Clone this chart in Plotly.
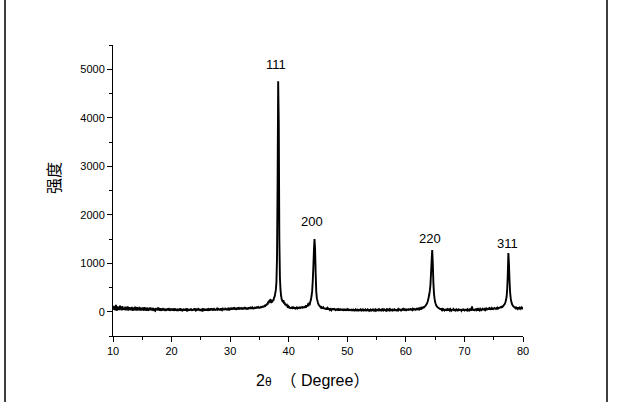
import plotly.graph_objects as go

# 2-theta grid: start 10.0, step 0.1 degree (one value per step)
theta_start = 10.0
theta_step = 0.1

# Intensity, rows of 10 values per degree (10.0 ... 79.9), then 80.0
intensity = [
    # 10
    60, 120, 40, 105, 30, 140, 55, 25, 110, 45,
    # 11
    90, 35, 125, 50, 100, 30, 115, 40, 85, 60,
    # 12
    40, 105, 30, 90, 45, 110, 25, 70, 95, 35,
    # 13
    75, 30, 100, 45, 25, 90, 50, 35, 105, 30,
    # 14
    55, 95, 25, 70, 40, 100, 45, 30, 85, 50,
    # 15
    35, 90, 45, 25, 95, 40, 70, 20, 85, 45,
    # 16
    40, 25, 85, 45, 90, 30, 60, 25, 80, 40,
    # 17
    50, 30, 20, 75, 40, 60, 25, 90, 35, 50,
    # 18
    25, 70, 40, 20, 65, 35, 75, 25, 55, 35,
    # 19
    45, 20, 60, 35, 70, 25, 55, 40, 20, 65,
    # 20
    35, 55, 25, 70, 20, 45, 65, 25, 55, 35,
    # 21
    20, 60, 35, 45, 25, 70, 35, 20, 55, 30,
    # 22
    45, 25, 55, 20, 65, 35, 25, 70, 20, 45,
    # 23
    25, 55, 35, 65, 20, 45, 25, 55, 35, 70,
    # 24
    35, 25, 65, 20, 55, 35, 75, 25, 45, 20,
    # 25
    55, 35, 25, 70, 35, 20, 60, 45, 25, 55,
    # 26
    25, 65, 35, 20, 55, 45, 25, 70, 35, 55,
    # 27
    45, 25, 75, 35, 55, 25, 60, 35, 80, 45,
    # 28
    55, 35, 60, 25, 70, 45, 35, 75, 55, 35,
    # 29
    60, 40, 80, 35, 65, 45, 40, 85, 55, 45,
    # 30
    60, 40, 85, 45, 70, 50, 90, 45, 70, 55,
    # 31
    50, 80, 45, 90, 55, 70, 45, 85, 55, 75,
    # 32
    65, 45, 90, 55, 75, 60, 95, 50, 80, 60,
    # 33
    70, 50, 95, 60, 80, 65, 100, 60, 85, 70,
    # 34
    75, 60, 100, 65, 90, 70, 105, 75, 95, 80,
    # 35
    80, 100, 75, 110, 85, 115, 90, 120, 100, 125,
    # 36
    120, 150, 130, 170, 150, 210, 180, 240, 220, 260,
    # 37
    180, 220, 195, 250, 230, 290, 310, 380, 450, 600,
    # 38
    1100, 2600, 4750, 3900, 1500, 700, 450, 330, 260, 230,
    # 39
    200, 240, 170, 190, 140, 160, 120, 135, 105, 115,
    # 40
    80, 95, 70, 90, 65, 85, 75, 90, 65, 85,
    # 41
    75, 65, 90, 60, 85, 70, 95, 65, 85, 90,
    # 42
    80, 100, 75, 95, 85, 105, 80, 100, 95, 115,
    # 43
    105, 130, 110, 150, 140, 170, 160, 210, 250, 330,
    # 44
    420, 620, 900, 1250, 1500, 1300, 800, 420, 280, 230,
    # 45
    180, 150, 130, 120, 100, 85, 95, 75, 80, 90,
    # 46
    60, 80, 55, 75, 45, 70, 80, 45, 65, 55,
    # 47
    40, 70, 50, 35, 65, 45, 70, 35, 55, 45,
    # 48
    35, 60, 30, 65, 40, 50, 25, 60, 40, 50,
    # 49
    30, 55, 25, 60, 35, 45, 25, 55, 35, 45,
    # 50
    25, 50, 35, 20, 55, 30, 50, 20, 40, 30,
    # 51
    40, 20, 50, 30, 45, 20, 55, 30, 40, 25,
    # 52
    30, 50, 20, 45, 30, 55, 20, 45, 30, 50,
    # 53
    20, 45, 30, 50, 20, 45, 30, 20, 50, 30,
    # 54
    45, 30, 50, 20, 45, 30, 55, 30, 45, 20,
    # 55
    30, 50, 20, 45, 30, 45, 20, 50, 30, 45,
    # 56
    20, 45, 30, 50, 40, 30, 20, 45, 30, 50,
    # 57
    40, 30, 50, 30, 45, 20, 50, 30, 45, 30,
    # 58
    30, 50, 40, 20, 50, 30, 45, 30, 55, 40,
    # 59
    40, 30, 55, 35, 50, 30, 55, 40, 50, 35,
    # 60
    45, 35, 55, 30, 50, 40, 60, 35, 55, 45,
    # 61
    50, 35, 60, 45, 55, 35, 65, 45, 60, 50,
    # 62
    60, 50, 65, 50, 70, 60, 80, 65, 85, 80,
    # 63
    95, 90, 105, 115, 130, 150, 170, 200, 240, 300,
    # 64
    360, 440, 560, 800, 1050, 1270, 1000, 600, 380, 270,
    # 65
    200, 160, 130, 110, 95, 85, 75, 70, 60, 55,
    # 66
    60, 40, 55, 35, 55, 45, 30, 55, 25, 45,
    # 67
    35, 50, 25, 60, 40, 25, 55, 40, 25, 50,
    # 68
    30, 55, 40, 20, 55, 30, 45, 20, 55, 30,
    # 69
    45, 25, 55, 30, 50, 20, 35, 55, 25, 45,
    # 70
    30, 50, 25, 55, 35, 50, 25, 40, 50, 30,
    # 71
    45, 25, 55, 110, 30, 50, 25, 55, 35, 50,
    # 72
    55, 35, 50, 25, 55, 45, 30, 60, 45, 35,
    # 73
    50, 60, 35, 65, 45, 60, 35, 50, 65, 50,
    # 74
    55, 65, 45, 70, 55, 65, 45, 75, 60, 55,
    # 75
    65, 75, 55, 80, 60, 75, 65, 85, 70, 80,
    # 76
    80, 90, 95, 90, 105, 100, 120, 130, 145, 165,
    # 77
    195, 240, 310, 460, 760, 1210, 1000, 640, 400, 280,
    # 78
    210, 165, 140, 120, 105, 95, 85, 90, 70, 85,
    # 79
    75, 60, 90, 55, 80, 65, 95, 55, 85, 70,
    # 80
    75,
]

peak_labels = ["111", "200", "220", "311"]
peak_label_x = [37.9, 44.0, 64.1, 77.3]
peak_label_y = [5100, 1860, 1520, 1410]

x_tick_vals = [10, 20, 30, 40, 50, 60, 70, 80]
y_tick_vals = [0, 1000, 2000, 3000, 4000, 5000]

W, H = 623, 402
L, R, T, B = 113, 100, 45, 66
pw, ph = W - L - R, H - T - B

def px_to_paper_x(px):
    return (px - L) / pw

def px_to_paper_y(py):
    return (H - B - py) / ph

fig = go.Figure()
fig.add_trace(go.Scatter(
    x0=theta_start, dx=theta_step, y=intensity,
    mode="lines", line=dict(color="black", width=1.9, simplify=False),
    hoverinfo="skip", showlegend=False,
))

tick_font = dict(family="Liberation Sans, Arial, sans-serif", size=11, color="black")

fig.update_xaxes(
    range=[10, 80], tickvals=x_tick_vals, ticks="outside", ticklen=5, tickwidth=1,
    tickcolor="black", showline=True, linecolor="black", linewidth=1,
    showgrid=False, zeroline=False, tickfont=tick_font,
    minor=dict(dtick=5, ticks="outside", ticklen=3, tickcolor="black", tickwidth=1),
)
fig.update_yaxes(
    range=[-500, 5500], tickvals=y_tick_vals, ticks="outside", ticklen=5, tickwidth=1,
    tickcolor="black", showline=True, linecolor="black", linewidth=1,
    showgrid=False, zeroline=False, tickfont=tick_font,
    minor=dict(tick0=-500, dtick=500, ticks="outside", ticklen=3, tickcolor="black", tickwidth=1),
)

annotations = []
for lab, lx, ly in zip(peak_labels, peak_label_x, peak_label_y):
    annotations.append(dict(
        x=lx, y=ly, xref="x", yref="y", text=lab, showarrow=False,
        font=dict(family="Liberation Sans, Arial, sans-serif", size=13, color="black"),
        xanchor="center", yanchor="middle",
    ))

annotations.append(dict(
    x=px_to_paper_x(312), y=px_to_paper_y(380), xref="paper", yref="paper",
    text="2<span style='font-size:12px'>θ</span>  （ Degree）", showarrow=False,
    font=dict(family="Liberation Sans, Arial, Noto Sans CJK SC", size=16, color="black"),
    xanchor="center", yanchor="middle",
))
annotations.append(dict(
    x=px_to_paper_x(53), y=px_to_paper_y(178), xref="paper", yref="paper",
    text="强度", showarrow=False, textangle=-90,
    font=dict(family="Noto Sans CJK SC", size=16, color="black"),
    xanchor="center", yanchor="middle",
))

shapes = [
    dict(type="line", xref="paper", yref="paper",
         x0=px_to_paper_x(5), x1=px_to_paper_x(5), y0=px_to_paper_y(0), y1=px_to_paper_y(402),
         line=dict(color="black", width=1.5)),
    dict(type="line", xref="paper", yref="paper",
         x0=px_to_paper_x(607), x1=px_to_paper_x(607), y0=px_to_paper_y(0), y1=px_to_paper_y(402),
         line=dict(color="black", width=1.5)),
]

fig.update_layout(
    width=W, height=H, autosize=False,
    margin=dict(l=L, r=R, t=T, b=B, pad=0),
    paper_bgcolor="white", plot_bgcolor="white",
    annotations=annotations, shapes=shapes,
)

fig.write_html(
    "out.html",
    config={"displayModeBar": False},
    post_script="document.body.style.margin='0';document.body.style.padding='0';"
                "document.body.style.overflow='hidden';",
)
